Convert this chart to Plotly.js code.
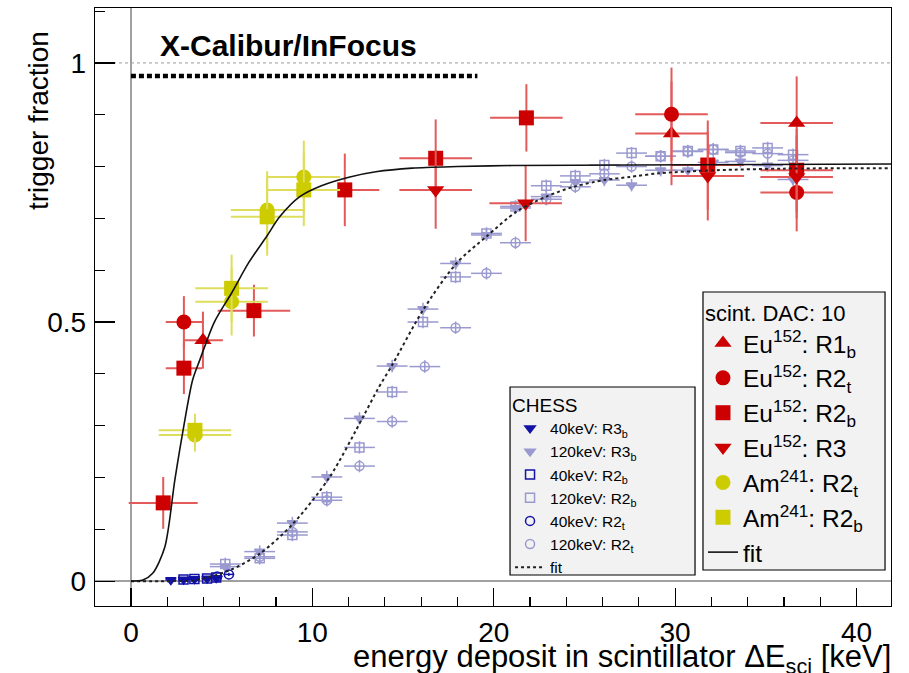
<!DOCTYPE html>
<html><head><meta charset="utf-8">
<script src="https://cdn.plot.ly/plotly-3.0.1.min.js"></script>
<style>html,body{margin:0;padding:0;background:#fff}#chart{width:909px;height:673px}</style>
</head><body><div id="chart"></div>
<script>
// ---------- CHESS data ----------
const c40R3bX = [2.2, 2.9, 3.5, 4.2, 4.7];
const c40R3bY = [0.002, 0.003, 0.004, 0.005, 0.006];
const c40R2bX = [2.9, 3.5, 4.2, 4.7];
const c40R2bY = [0.003, 0.004, 0.005, 0.007];
const c40R2tX = [4.75, 5.4];
const c40R2tY = [0.009, 0.013];

const c120X = [5.2, 7.1, 8.9, 10.8, 12.6, 14.4, 16.1, 17.9, 19.6, 21.2, 22.9, 24.5, 26.1, 27.6, 29.2, 30.7, 32.1, 33.6, 35.1, 36.5];
const c120R3bY = [0.028, 0.057, 0.112, 0.201, 0.314, 0.415, 0.525, 0.613, 0.668, 0.72, 0.742, 0.77, 0.774, 0.764, 0.793, 0.793, 0.808, 0.81, 0.802, 0.775];
const c120R2bY = [0.033, 0.044, 0.089, 0.162, 0.258, 0.365, 0.5, 0.587, 0.671, 0.723, 0.763, 0.782, 0.803, 0.826, 0.82, 0.83, 0.833, 0.83, 0.836, 0.823];
const c120R2tX = [7.1, 8.9, 10.8, 12.6, 14.4, 16.2, 17.9, 19.6, 21.2, 22.9, 24.5, 26.1, 27.6, 29.2, 30.7, 32.1, 33.6, 35.1, 36.5];
const c120R2tY = [0.047, 0.095, 0.156, 0.222, 0.308, 0.414, 0.489, 0.594, 0.653, 0.737, 0.761, 0.786, 0.80, 0.82, 0.829, 0.833, 0.827, 0.825, 0.812];

const fitChessX = [0, 2, 3.6, 5.45, 7.11, 8.94, 10.96, 12.8, 13.6, 14.45, 16.1, 17.94, 19.6, 21.25, 22.9, 24.4, 26.1, 27.5, 29.1, 32.3, 36, 42];
const fitChessY = [0, 0, 0.002, 0.021, 0.053, 0.111, 0.201, 0.317, 0.37, 0.42, 0.523, 0.613, 0.665, 0.713, 0.742, 0.761, 0.774, 0.78, 0.787, 0.793, 0.796, 0.797];

// ---------- scint. DAC 10 data ----------
const euR1bX = [3.97, 29.8, 36.7];
const euR1bY = [0.465, 0.864, 0.884];
const euR1bEx = [1.1, 2, 2];
const euR1bEy = [0.055, 0.1, 0.09];

const euR2tX = [2.92, 29.8, 36.7];
const euR2tY = [0.5, 0.901, 0.75];
const euR2tEx = [1, 2, 2];
const euR2tEy = [0.05, 0.09, 0.075];

const euR2bX = [1.78, 2.92, 6.78, 11.79, 16.8, 21.8, 31.8, 36.7];
const euR2bY = [0.151, 0.411, 0.522, 0.755, 0.816, 0.894, 0.803, 0.793];
const euR2bEx = [1.9, 1, 2, 1.9, 2, 2, 2, 2];
const euR2bEy = [0.05, 0.05, 0.05, 0.07, 0.075, 0.065, 0.086, 0.08];

const euR3X = [16.8, 21.76, 31.8, 36.7];
const euR3Y = [0.755, 0.729, 0.782, 0.78];
const euR3Ex = [2, 2, 2, 2];
const euR3Ey = [0.075, 0.073, 0.086, 0.08];

const amR2tX = [3.53, 5.55, 7.51, 9.53];
const amR2tY = [0.282, 0.539, 0.716, 0.78];
const amR2bX = [3.53, 5.55, 7.51, 9.53];
const amR2bY = [0.291, 0.565, 0.703, 0.755];
const amEx = [2, 2, 2, 2];
const amEy = [0.032, 0.065, 0.075, 0.07];

const fitScintX = [0, 0.66, 1.2, 1.87, 2.42, 2.87, 3.4, 3.8, 4.6, 5.55, 6.5, 7.48, 8.2, 9.31, 10.5, 12.07, 13.5, 15.5, 18, 21, 27.5, 35, 42];
const fitScintY = [0, 0.002, 0.015, 0.066, 0.195, 0.29, 0.388, 0.427, 0.5, 0.556, 0.615, 0.665, 0.703, 0.742, 0.763, 0.78, 0.79, 0.797, 0.8, 0.802, 0.803, 0.804, 0.805];

const legendChess = ['40keV: R3<sub>b</sub>', '120keV: R3<sub>b</sub>', '40keV: R2<sub>b</sub>', '120keV: R2<sub>b</sub>', '40keV: R2<sub>t</sub>', '120keV: R2<sub>t</sub>', 'fit'];
const legendScint = ['Eu<sup>152</sup>: R1<sub>b</sub>', 'Eu<sup>152</sup>: R2<sub>t</sub>', 'Eu<sup>152</sup>: R2<sub>b</sub>', 'Eu<sup>152</sup>: R3', 'Am<sup>241</sup>: R2<sub>t</sub>', 'Am<sup>241</sup>: R2<sub>b</sub>', 'fit'];

// ---------- styles ----------
const DARK = '#1212a6', LIGHT = '#9a9ad0';
const RED = '#cc0000', REDERR = '#e35a5a';
const YEL = '#cccc00', YELERR = '#dede5c';
const FONT = 'Liberation Sans, Arial, Helvetica, sans-serif';
const BOXFILL = '#f2f2f2';

function chessTrace(x, y, ex, name, sym, col, size) {
  return {
    type: 'scatter', mode: 'markers', x: x, y: y, name: name, legend: 'legend',
    marker: {symbol: sym, size: size, color: col, line: {color: col, width: 1.5}},
    error_x: {type: 'constant', value: ex, color: col, thickness: 1.5, width: 0},
    error_y: {type: 'constant', value: ex > 0.5 ? 0.012 : 0.003, color: col, thickness: 1.5, width: 0}
  };
}
function scintTrace(x, y, ex, ey, name, sym, col, ecol) {
  return {
    type: 'scatter', mode: 'markers', x: x, y: y, name: name, legend: 'legend2',
    marker: {symbol: sym, size: 15, color: col, line: {width: 0}},
    error_x: {type: 'data', array: ex, color: ecol, thickness: 2, width: 0},
    error_y: {type: 'data', array: ey, color: ecol, thickness: 2, width: 0}
  };
}

const traces = [
  chessTrace(c40R3bX, c40R3bY, 0.3, legendChess[0], 'triangle-down', DARK, 9),
  chessTrace(c120X, c120R3bY, 0.85, legendChess[1], 'triangle-down', LIGHT, 9),
  chessTrace(c40R2bX, c40R2bY, 0.3, legendChess[2], 'square-open', DARK, 9),
  chessTrace(c120X, c120R2bY, 0.85, legendChess[3], 'square-open', LIGHT, 9),
  chessTrace(c40R2tX, c40R2tY, 0.3, legendChess[4], 'circle-open', DARK, 9),
  chessTrace(c120R2tX, c120R2tY, 0.85, legendChess[5], 'circle-open', LIGHT, 9),
  scintTrace(euR1bX, euR1bY, euR1bEx, euR1bEy, legendScint[0], 'triangle-up', RED, REDERR),
  scintTrace(euR2tX, euR2tY, euR2tEx, euR2tEy, legendScint[1], 'circle', RED, REDERR),
  scintTrace(euR2bX, euR2bY, euR2bEx, euR2bEy, legendScint[2], 'square', RED, REDERR),
  scintTrace(euR3X, euR3Y, euR3Ex, euR3Ey, legendScint[3], 'triangle-down', RED, REDERR),
  scintTrace(amR2tX, amR2tY, amEx, amEy, legendScint[4], 'circle', YEL, YELERR),
  scintTrace(amR2bX, amR2bY, amEx, amEy, legendScint[5], 'square', YEL, YELERR),
  {type: 'scatter', mode: 'lines', x: fitChessX, y: fitChessY, name: legendChess[6], legend: 'legend',
   line: {color: '#222', width: 2, dash: 'dot', shape: 'spline', smoothing: 0.8}},
  {type: 'scatter', mode: 'lines', x: fitScintX, y: fitScintY, name: legendScint[6], legend: 'legend2',
   line: {color: '#111', width: 1.6, shape: 'spline', smoothing: 0.8}}
];

const layout = {
  width: 909, height: 673,
  margin: {l: 95, r: 18, t: 8, b: 67},
  paper_bgcolor: '#fff', plot_bgcolor: '#fff',
  font: {family: FONT, color: '#000'},
  showlegend: true,
  xaxis: {
    range: [-1.98, 41.9], showgrid: false,
    zeroline: true, zerolinecolor: '#a0a0a0', zerolinewidth: 1.5,
    showline: true, linecolor: '#000', linewidth: 1.2, mirror: true,
    tickmode: 'linear', tick0: 0, dtick: 10, ticks: 'inside', ticklen: 18, tickwidth: 1.2, tickcolor: '#000',
    minor: {tick0: 0, dtick: 2, ticks: 'inside', ticklen: 9, tickwidth: 1.2, tickcolor: '#000'},
    tickfont: {size: 28, family: FONT}, ticklabelstandoff: 1
  },
  yaxis: {
    range: [-0.048, 1.106], showgrid: false,
    zeroline: true, zerolinecolor: '#a0a0a0', zerolinewidth: 1.5,
    showline: true, linecolor: '#000', linewidth: 1.2, mirror: true,
    tickmode: 'array', tickvals: [0, 0.5, 1], ticktext: ['0', '0.5', '1'],
    ticks: 'inside', ticklen: 20, tickwidth: 1.2, tickcolor: '#000',
    minor: {tick0: 0, dtick: 0.1, ticks: 'inside', ticklen: 10, tickwidth: 1.2, tickcolor: '#000'},
    tickfont: {size: 28, family: FONT}, ticklabelstandoff: 2
  },
  legend: {
    x: 0.5214, y: 0.3662, xanchor: 'left', yanchor: 'top',
    bgcolor: 'rgba(0,0,0,0)', borderwidth: 0,
    font: {size: 15.5, family: FONT},
    title: {text: 'CHESS', font: {size: 19, family: FONT}},
    itemwidth: 30
  },
  legend2: {
    x: 0.7638, y: 0.5251, xanchor: 'left', yanchor: 'top',
    bgcolor: 'rgba(0,0,0,0)', borderwidth: 0,
    font: {size: 24.5, family: FONT},
    title: {text: 'scint. DAC: 10', font: {size: 22, family: FONT}},
    itemwidth: 30
  },
  shapes: [
    {type: 'line', xref: 'paper', yref: 'y', x0: 0, x1: 1, y0: 1, y1: 1,
     line: {color: '#999', width: 1, dash: 'dot'}, layer: 'below'},
    {type: 'line', xref: 'x', yref: 'y', x0: 0, x1: 19.1, y0: 0.975, y1: 0.975,
     line: {color: '#000', width: 4.5, dash: '5px,3px'}},
    {type: 'rect', xref: 'paper', yref: 'paper', x0: 0.5214, x1: 0.7538, y0: 0.0518, y1: 0.3662,
     fillcolor: BOXFILL, line: {color: '#000', width: 1.2}, layer: 'below'},
    {type: 'rect', xref: 'paper', yref: 'paper', x0: 0.7638, x1: 0.9925, y0: 0.0602, y1: 0.5251,
     fillcolor: BOXFILL, line: {color: '#000', width: 1.2}, layer: 'below'}
  ],
  annotations: [
    {text: '<b>X-Calibur/InFocus</b>', xref: 'paper', yref: 'paper', x: 0.079, y: 0.938,
     xanchor: 'left', yanchor: 'middle', showarrow: false, font: {size: 30, family: FONT}},
    {text: 'trigger fraction', xref: 'paper', yref: 'paper', x: -0.0716, y: 0.811,
     xanchor: 'center', yanchor: 'middle', textangle: -90, showarrow: false, font: {size: 28, family: FONT}},
    {text: 'energy deposit in scintillator \u0394E<sub>sci</sub> [keV]', xref: 'paper', yref: 'paper', x: 1.003, y: -0.088,
     xanchor: 'right', yanchor: 'middle', showarrow: false, font: {size: 31, family: FONT}}
  ]
};

Plotly.newPlot('chart', traces, layout, {displayModeBar: false, staticPlot: true});
</script></body></html>
